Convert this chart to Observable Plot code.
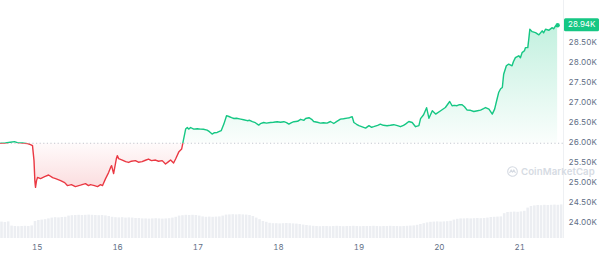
<!DOCTYPE html>
<html><head><meta charset="utf-8">
<script src="https://cdn.jsdelivr.net/npm/d3@7"></script>
<script src="https://cdn.jsdelivr.net/npm/@observablehq/plot@0.6"></script>
<style>
html,body{margin:0;padding:0;background:#fff;}
#wrap{position:relative;width:600px;height:255px;overflow:hidden;font-family:Inter,"Noto Sans",sans-serif;}
#wrap svg.layer{position:absolute;left:0;top:0;}
#wm{position:absolute;left:507px;top:166px;display:flex;align-items:center;gap:3px;color:#d6dbe3;font:600 9.6px Inter,sans-serif;letter-spacing:0.1px;white-space:nowrap;}
</style></head><body>
<div id="wrap"><div id="wm"><svg width="11" height="11" viewBox="0 0 24 24"><circle cx="12" cy="12" r="10.5" fill="none" stroke="#d6dbe3" stroke-width="2.4"/><path d="M5.5 15.5 L9 8.5 L12 13.5 L15 8.5 L18.5 15.5" fill="none" stroke="#d6dbe3" stroke-width="2.4" stroke-linejoin="round"/></svg><span>CoinMarketCap</span></div></div>
<script>
// hours since Sep 14 00:00
const hours = [
 13.1,14.5,16.0,17.2,18.1,19.6,21.1,22.0,22.6,23.05,
 23.3,23.5,23.8,24.1,25.0,26.2,27.4,28.6,29.5,31.0,
 32.2,33.0,34.2,35.4,36.9,38.4,39.3,39.9,41.1,42.0,
 42.9,43.5,44.4,45.3,45.9,46.2,46.8,47.6,47.9,48.3,
 49.4,50.4,51.3,52.1,53.3,54.2,55.3,56.3,57.2,58.1,
 59.3,60.2,61.3,62.3,63.2,63.8,64.7,65.3,66.3,67.1,
 67.5,68.3,68.8,69.2,69.8,70.3,70.7,71.8,72.7,73.6,
 74.7,75.4,76.2,76.9,77.7,78.9,79.7,80.5,81.2,82.0,
 82.7,83.5,84.7,85.6,86.7,87.4,88.2,89.1,90.1,90.6,
 91.6,92.4,93.6,94.5,95.6,96.6,97.6,98.4,99.1,99.9,
 100.6,101.7,102.6,103.6,104.1,105.1,105.9,106.5,107.6,108.5,
 109.4,110.5,111.5,112.5,113.3,114.5,115.4,116.5,117.2,118.0,
 118.5,119.3,120.0,120.8,122.0,123.0,123.8,124.4,125.6,126.4,
 127.3,128.4,129.4,130.4,131.5,132.4,133.3,133.9,134.9,135.9,
 136.9,137.9,138.4,139.3,140.2,140.9,141.9,142.9,144.4,145.8,
 147.1,147.8,148.5,149.3,150.0,150.8,151.5,152.3,153.3,154.3,
 155.4,156.3,157.2,157.8,158.8,159.8,160.5,161.1,161.7,162.3,
 162.8,163.2,164.0,164.7,165.7,166.1,166.7,167.7,168.2,168.7,
 169.4,169.7,170.4,170.8,171.0,171.7,172.7,173.7,174.7,175.1,
 175.7,176.7,177.2,177.7,178.1,178.7,179.3
];
const prices = [
 25985,25990,26012,26025,26000,25990,25975,25950,25925,25550,
 25050,24880,25050,25130,25100,25150,25190,25125,25100,25050,
 25000,24925,24950,24900,24935,24975,24925,24950,24925,24900,
 24950,24925,25100,25250,25380,25425,25225,25590,25675,25600,
 25565,25525,25505,25535,25550,25510,25525,25560,25590,25550,
 25565,25535,25550,25465,25525,25565,25490,25590,25775,25840,
 26005,26340,26380,26340,26380,26355,26340,26350,26340,26335,
 26315,26275,26215,26250,26255,26300,26465,26675,26655,26625,
 26605,26610,26590,26575,26550,26560,26525,26500,26440,26475,
 26505,26490,26505,26510,26525,26510,26525,26500,26465,26500,
 26525,26535,26585,26560,26605,26625,26585,26530,26510,26490,
 26500,26490,26530,26480,26525,26590,26600,26615,26625,26650,
 26505,26460,26425,26400,26365,26425,26385,26400,26435,26465,
 26435,26425,26435,26450,26425,26400,26435,26465,26530,26505,
 26400,26425,26600,26700,26875,26610,26800,26715,26800,26880,
 27030,26925,26935,26925,26950,26950,26900,26815,26810,26780,
 26800,26815,26850,26880,26840,26715,26840,27050,27255,27350,
 27380,27715,27925,27965,27925,28025,28130,28175,28125,28255,
 28300,28380,28380,28675,28840,28780,28755,28700,28800,28750,
 28840,28815,28850,28880,28850,28925,28940
];
// hourly volume (relative, billions) starting at hour 13 of Sep 14
const volStartHour = 13;
const volume = [
 8.2,8.0,8.3, 6.2,6.0,5.9,6.0,6.1,6.0,6.3, 8.5, 9.0,9.2,9.4,9.8,
 10.2,10.4,10.3,10.5,10.6,
 11.2,11.4,11.5,11.6,11.5,11.6,11.7,11.6,11.5,11.4,11.5,11.3,11.0,
 10.6,10.4,10.3,10.4,10.2,10.3,10.2,10.0,10.0,
 9.8,9.8,9.7,9.8,9.9,9.8,9.7,9.8,9.9,10.2,10.6,
 11.2,11.4,11.6,11.5,11.6,11.5,11.2,
 10.8,10.6,10.7,10.6,10.7,10.8,11.2,
 11.7,11.8,11.9,11.8,11.9,11.8,11.7,11.5,11.0,
 10.2,9.4, 8.5,8.1,
 7.6,7.4,7.4,7.3,7.4,7.5,7.4,7.3,7.2,7.0,
 6.7,6.5,6.3,
 6.1,6.0,5.9,6.0,6.0,5.9,6.0,6.1,6.0,5.9,6.0,6.0,6.1,6.0,5.9,6.0,
 6.0,6.0,6.1,6.0,5.9,6.0,6.0,6.1,6.0,6.0,5.9,6.0,6.1,6.2,6.3,6.6,
 7.0,7.4,7.8,
 8.1,8.2,8.3,8.2,8.3,8.4,8.6,
 9.2,9.6,9.8,9.8,9.9,9.8,9.9,10.0,9.9,10.0,10.2,
 10.5,10.6,10.7,10.8,
 12.4,13.0,13.1,13.2,13.1,13.3,13.6,
 15.2,16.0,16.3,16.5,16.4,16.6,16.5,16.6,16.7,16.6,16.8
];
const dayTicks = [24, 48, 72, 96, 120, 144, 168];
const dayLabels = ["15", "16", "17", "18", "19", "20", "21"];
const yTicks = [24000, 24500, 25000, 25500, 26000, 26500, 27000, 27500, 28000, 28500];
const xDomain = [13.05, 181.05];
const yDomain = [23600, 29560];
const volDomain = [0, 20];

const GREEN = "#16c784", RED = "#ea3943";
const data = hours.map((h, i) => ({h, p: prices[i]}));
const vdata = volume.map((v, i) => ({h: volStartHour + i, v}));
const baseline = prices[0];
const fmtK = v => (v / 1000).toFixed(2) + "K";

const wrap = document.getElementById("wrap");

const vol = Plot.plot({
  width: 600, height: 255, marginLeft: 0, marginRight: 37, marginTop: 198, marginBottom: 17,
  x: {domain: xDomain, axis: null}, y: {domain: volDomain, axis: null},
  style: {background: "transparent"},
  marks: [
    Plot.rectY(vdata, {x1: "h", x2: d => d.h + 1, y: "v", fill: "#eceef2", insetLeft: 0.4, insetRight: 0.4})
  ]
});
vol.classList.add("layer");
wrap.prepend(vol);

const main = Plot.plot({
  width: 600, height: 255, marginLeft: 0, marginRight: 37, marginTop: 0, marginBottom: 17,
  x: {domain: xDomain, ticks: dayTicks, tickFormat: d => dayLabels[dayTicks.indexOf(d)], tickSize: 0, tickPadding: 6, label: null},
  y: {domain: yDomain, axis: "right", ticks: yTicks, tickFormat: fmtK, tickSize: 0, tickPadding: 5, label: null},
  style: {background: "transparent", fontFamily: "Inter, sans-serif", fontSize: "8px", color: "#616e85"},
  marks: [
    Plot.ruleX([xDomain[1]], {stroke: "#eef0f3"}),
    Plot.ruleY([baseline], {stroke: "#c3c8d0", strokeDasharray: "1.2,2.4"}),
    Plot.areaY(data, {x: "h", y1: d => baseline, y2: "p", fill: "url(#gUp)"}),
    Plot.areaY(data, {x: "h", y1: d => baseline, y2: "p", fill: "url(#gDn)"}),
    Plot.lineY(data, {x: "h", y: "p", stroke: GREEN, strokeWidth: 1.4}),
    Plot.lineY(data, {x: "h", y: "p", stroke: RED, strokeWidth: 1.4}),
    Plot.dot(data.slice(-1), {x: "h", y: "p", r: 2.2, fill: GREEN})
  ]
});
main.classList.add("layer");
wrap.insertBefore(main, document.getElementById("wm"));

const ys = main.scale("y");
const yb = ys.apply(baseline);
const yTop = ys.apply(d3.max(prices));
const yBot = ys.apply(d3.min(prices));
const ns = "http://www.w3.org/2000/svg";
const defs = document.createElementNS(ns, "defs");
defs.innerHTML =
  `<clipPath id="cUp"><rect x="-10" y="-10" width="620" height="${yb + 10}"/></clipPath>` +
  `<clipPath id="cDn"><rect x="-10" y="${yb}" width="620" height="${300 - yb}"/></clipPath>` +
  `<linearGradient id="gUp" gradientUnits="userSpaceOnUse" x1="0" x2="0" y1="${yTop}" y2="${yb}">` +
  `<stop offset="0" stop-color="${GREEN}" stop-opacity="0.26"/><stop offset="1" stop-color="${GREEN}" stop-opacity="0.02"/></linearGradient>` +
  `<linearGradient id="gDn" gradientUnits="userSpaceOnUse" x1="0" x2="0" y1="${yb}" y2="${yBot}">` +
  `<stop offset="0" stop-color="${RED}" stop-opacity="0.02"/><stop offset="1" stop-color="${RED}" stop-opacity="0.17"/></linearGradient>`;
main.prepend(defs);
const areas = main.querySelectorAll('g[aria-label="area"]');
const lines = main.querySelectorAll('g[aria-label="line"]');
areas[0].setAttribute("clip-path", "url(#cUp)");
areas[1].setAttribute("clip-path", "url(#cDn)");
lines[0].setAttribute("clip-path", "url(#cUp)");
lines[1].setAttribute("clip-path", "url(#cDn)");

// current price badge
const last = prices[prices.length - 1];
const yl = ys.apply(last);
const xr = main.scale("x").apply(xDomain[1]);
const badge = document.createElementNS(ns, "g");
badge.innerHTML =
  `<rect x="${xr + 1}" y="${yl - 6.5}" width="${600 - xr - 2}" height="13" rx="1.5" fill="${GREEN}"/>` +
  `<text x="${xr + 5}" y="${yl}" dy="0.32em" text-anchor="start" fill="#fff" font-size="8" font-family="Inter, sans-serif">${fmtK(last)}</text>`;
main.appendChild(badge);
</script>
</body></html>
